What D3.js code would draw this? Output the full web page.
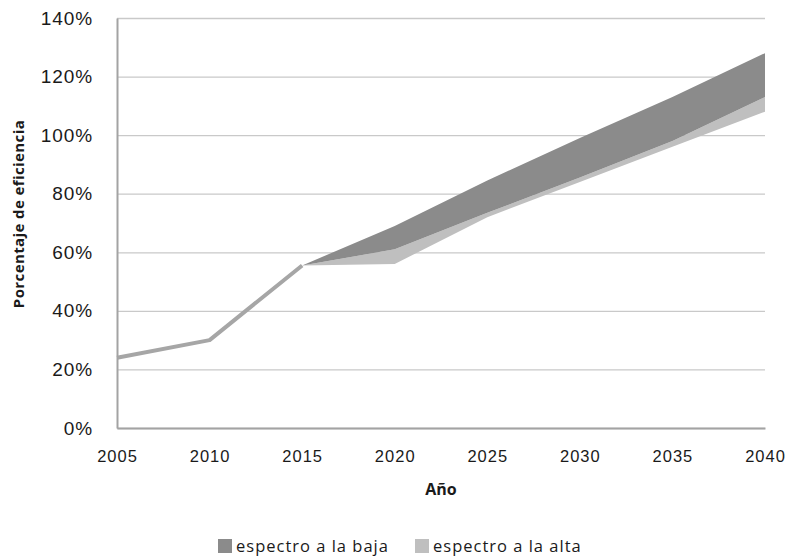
<!DOCTYPE html>
<html>
<head>
<meta charset="utf-8">
<script src="https://cdn.jsdelivr.net/npm/d3@7"></script>
<style>
  html, body { margin: 0; padding: 0; background: #fff; }
  svg { display: block; font-family: "Open Sans", sans-serif; }
</style>
</head>
<body>
<svg id="chart" width="787" height="559"></svg>
<script>
// ---- data ----
const xTicks = [2005, 2010, 2015, 2020, 2025, 2030, 2035, 2040];
const yTicks = [0, 20, 40, 60, 80, 100, 120, 140];
const histYears = [2005, 2010, 2015];
const histValues = [24, 30, 55.5];
const rangeYears = [2015, 2020, 2025, 2030, 2035, 2040];
const baseValues = [55.5, 56, 72, 84, 96, 108];     // invisible base of stack
const altaValues = [0, 5, 1.5, 1.5, 2, 5];          // espectro a la alta (light)
const bajaValues = [0, 8, 11, 13.5, 15, 15];        // espectro a la baja (dark)
const seriesNames = ["espectro a la baja", "espectro a la alta"];

// ---- layout ----
const svg = d3.select("#chart");
const pLeft = 117, pRight = 765, pTop = 18, pBottom = 428;
const x = d3.scaleLinear().domain([2005, 2040]).range([pLeft, pRight]);
const y = d3.scaleLinear().domain([0, 140]).range([pBottom, pTop]);

const colDark = "#8b8b8b", colLight = "#bfbfbf", colLine = "#a6a6a6";

// gridlines
const grid = d3.axisLeft(y).tickValues(yTicks).tickSize(-(pRight - pLeft)).tickFormat("");
svg.append("g").attr("transform", `translate(${pLeft},0)`).call(grid)
  .call(g => g.select(".domain").remove())
  .call(g => g.selectAll("line").attr("stroke", "#c9c9c9").attr("stroke-width", 1.3));

// stacked areas
const table = rangeYears.map((yr, i) => ({ year: yr, base: baseValues[i], alta: altaValues[i], baja: bajaValues[i] }));
const stack = d3.stack().keys(["base", "alta", "baja"])(table);
const area = d3.area().x(d => x(d.data.year)).y0(d => y(d[0])).y1(d => y(d[1]));
svg.append("path").datum(stack[1]).attr("d", area).attr("fill", colLight);
svg.append("path").datum(stack[2]).attr("d", area).attr("fill", colDark);

// history line
const line = d3.line().x((d, i) => x(histYears[i])).y(d => y(d));
svg.append("path").datum(histValues).attr("d", line)
  .attr("fill", "none").attr("stroke", colLine).attr("stroke-width", 4).attr("stroke-linejoin", "round");

// axes
const yAxis = d3.axisLeft(y).tickValues(yTicks).tickSize(0).tickPadding(24).tickFormat(d => d + "%");
svg.append("g").attr("transform", `translate(${pLeft},0)`).call(yAxis)
  .call(g => g.select(".domain").attr("stroke", "#a3a3a3").attr("stroke-width", 2))
  .call(g => g.selectAll("text").attr("font-size", 19).attr("fill", "#1a1a1a").attr("letter-spacing", 0.9));

const xAxis = d3.axisBottom(x).tickValues(xTicks).tickSize(0).tickPadding(22).tickFormat(d3.format("d"));
svg.append("g").attr("transform", `translate(0,${pBottom})`).call(xAxis)
  .call(g => g.select(".domain").attr("stroke", "#a3a3a3").attr("stroke-width", 2))
  .call(g => g.selectAll("text").attr("font-size", 16.5).attr("fill", "#1a1a1a").attr("letter-spacing", 1));

// axis titles
svg.append("text").attr("x", 441).attr("y", 495).attr("text-anchor", "middle")
  .attr("font-size", 16).attr("font-weight", "bold").attr("fill", "#1a1a1a").text("Año");
svg.append("text").attr("transform", "translate(24,214) rotate(-90)").attr("text-anchor", "middle")
  .attr("font-size", 15).attr("font-weight", "bold").attr("fill", "#1a1a1a")
  .attr("letter-spacing", 0.4).text("Porcentaje de eficiencia");

// legend
const legend = svg.append("g");
const legX = [218, 415];
const legCol = [colDark, colLight];
seriesNames.forEach((name, i) => {
  legend.append("rect").attr("x", legX[i]).attr("y", 539).attr("width", 14).attr("height", 14).attr("fill", legCol[i]);
  legend.append("text").attr("x", legX[i] + 18).attr("y", 552).attr("font-size", 16.5).attr("fill", "#1a1a1a")
    .attr("letter-spacing", 1.0).text(name);
});
</script>
</body>
</html>
